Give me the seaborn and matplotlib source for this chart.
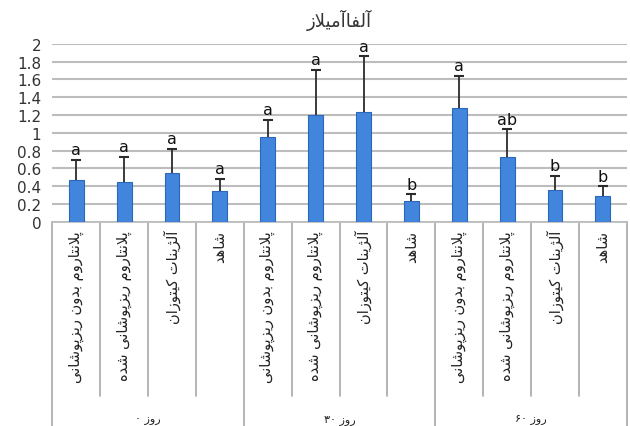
import re
import matplotlib
matplotlib.use("Agg")
from matplotlib import pyplot as plt
import matplotlib.transforms as mtransforms
import pandas as pd
import seaborn as sns

# data
groups = ["روز ۰", "روز ۳۰", "روز ۶۰"]
treatments = ["پلانتاروم بدون ریزپوشانی", "پلانتاروم ریزپوشانی شده", "آلژینات کیتوزان", "شاهد"]
values = [0.47, 0.45, 0.55, 0.35, 0.95, 1.20, 1.23, 0.24, 1.28, 0.73, 0.36, 0.29]
errors = [0.23, 0.28, 0.27, 0.13, 0.20, 0.51, 0.63, 0.07, 0.36, 0.31, 0.16, 0.11]
letters = ["a", "a", "a", "a", "a", "a", "a", "b", "a", "ab", "b", "b"]
title = "آلفاآمیلاز"

# matplotlib does no arabic shaping, so pick presentation forms by hand
FORMS = {
    'ا': ('\uFE8D', '\uFE8E', None, None),
    'آ': ('\uFE81', '\uFE82', None, None),
    'ب': ('\uFE8F', '\uFE90', '\uFE91', '\uFE92'),
    'پ': ('\uFB56', '\uFB57', '\uFB58', '\uFB59'),
    'ت': ('\uFE95', '\uFE96', '\uFE97', '\uFE98'),
    'د': ('\uFEA9', '\uFEAA', None, None),
    'ر': ('\uFEAD', '\uFEAE', None, None),
    'ز': ('\uFEAF', '\uFEB0', None, None),
    'ژ': ('\uFB8A', '\uFB8B', None, None),
    'ش': ('\uFEB5', '\uFEB6', '\uFEB7', '\uFEB8'),
    'ف': ('\uFED1', '\uFED2', '\uFED3', '\uFED4'),
    'ک': ('\uFB8E', '\uFB8F', '\uFB90', '\uFB91'),
    'ل': ('\uFEDD', '\uFEDE', '\uFEDF', '\uFEE0'),
    'م': ('\uFEE1', '\uFEE2', '\uFEE3', '\uFEE4'),
    'ن': ('\uFEE5', '\uFEE6', '\uFEE7', '\uFEE8'),
    'ه': ('\uFEE9', '\uFEEA', '\uFEEB', '\uFEEC'),
    'و': ('\uFEED', '\uFEEE', None, None),
    'ی': ('\uFBFC', '\uFBFD', '\uFBFE', '\uFBFF'),
}
LAM_ALEF = {'ا': ('\uFEFB', '\uFEFC'), 'آ': ('\uFEF5', '\uFEF6')}


def shape(text):
    out = []
    i = 0
    while i < len(text):
        c = text[i]
        if c not in FORMS:
            out.append(c)
            i += 1
            continue
        prev = text[i - 1] if i > 0 else None
        joins_prev = prev in FORMS and FORMS[prev][2] is not None
        if c == 'ل' and i + 1 < len(text) and text[i + 1] in LAM_ALEF:
            out.append(LAM_ALEF[text[i + 1]][1 if joins_prev else 0])
            i += 2
            continue
        nxt = text[i + 1] if i + 1 < len(text) else None
        iso, fin, ini, med = FORMS[c]
        joins_next = ini is not None and nxt in FORMS
        if joins_prev and joins_next:
            out.append(med)
        elif joins_prev:
            out.append(fin)
        elif joins_next:
            out.append(ini)
        else:
            out.append(iso)
        i += 1
    return ''.join(out)


def rtl(text):
    s = shape(text)[::-1]
    return re.sub('[\u06F0-\u06F9]+', lambda m: m.group(0)[::-1], s)


sns.set_style("white")
plt.rcParams['font.family'] = ['DejaVu Sans']

labels = [f"{g}|{t}" for g in groups for t in treatments]
df = pd.DataFrame({'bar': labels, 'value': values})

fig = plt.figure(figsize=(6.3, 4.27), dpi=100)
ax = fig.add_axes([0.083, 0.478, 0.912, 0.417])

sns.barplot(data=df, x='bar', y='value', color='#4186dc', width=0.31,
            edgecolor='#2d68b8', linewidth=0.8, saturation=1, ax=ax, zorder=3)

# upper error bars only, cap on top
pos = list(range(len(values)))
tops = [v + e for v, e in zip(values, errors)]
ax.vlines(pos, values, tops, color='#2b2b2b', linewidth=1.3, zorder=4)
ax.plot(pos, tops, linestyle='none', marker='_', markersize=7, markeredgewidth=1.5,
        color='#2b2b2b', zorder=4)

for x, t, l in zip(pos, tops, letters):
    ax.text(x, t + 0.03, l, ha='center', va='bottom', fontsize=11.5, color='#111111')

ax.set_ylim(0, 2)
ax.set_xlim(-0.5, len(values) - 0.5)
ax.set_yticks([i / 5 for i in range(11)])
ax.set_yticklabels(['0', '0.2', '0.4', '0.6', '0.8', '1', '1.2', '1.4', '1.6', '1.8', '2'],
                   fontsize=11, color='#333333')
ax.tick_params(axis='y', length=0, pad=8)
ax.yaxis.grid(True, color='#bdbdbd', linewidth=1.5, zorder=0)
ax.set_axisbelow(True)
for side in ['top', 'right', 'left']:
    ax.spines[side].set_visible(False)
ax.spines['bottom'].set_color('#bdbdbd')
ax.spines['bottom'].set_linewidth(1.3)
ax.set_xticks([])
ax.set_xlabel('')
ax.set_ylabel('')

ax.set_title(rtl(title), fontsize=13, color='#333333', pad=13)

# category table below the axis
trans = mtransforms.blended_transform_factory(ax.transData, ax.transAxes)
for x, lab in zip(pos, labels):
    t = lab.split('|')[1]
    ax.text(x, -0.045, rtl(t), rotation=90, ha='center', va='top', fontsize=10.5,
            color='#222222', transform=trans)
for k in range(len(values) + 1):
    xb = k - 0.5
    bottom = -1.15 if k % 4 == 0 else -0.98
    ax.plot([xb, xb], [0, bottom], color='#a8a8a8', linewidth=1.2,
            transform=trans, clip_on=False)
for g, name in enumerate(groups):
    ax.text(g * 4 + 1.5, -1.105, rtl(name), ha='center', va='center', fontsize=8,
            color='#222222', transform=trans)

fig.savefig('out.png', dpi=100)
